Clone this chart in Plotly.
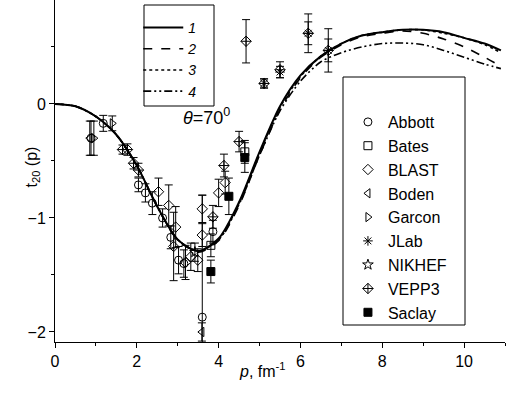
import plotly.graph_objects as go

# ---- theory curves ----
p_curve = [0, 0.5, 1, 1.5, 2, 2.5, 3, 3.5, 4, 4.5, 5, 5.5, 6, 6.5, 7, 7.5, 8, 8.5, 9, 9.5, 10, 10.5, 10.9]
t_curve1 = [0, -0.02, -0.11, -0.27, -0.54, -0.90, -1.19, -1.29, -1.18, -0.86, -0.42, -0.02, 0.25, 0.42, 0.53, 0.60, 0.63, 0.65, 0.65, 0.63, 0.58, 0.53, 0.47]
t_curve2 = [0, -0.02, -0.11, -0.27, -0.54, -0.90, -1.19, -1.30, -1.20, -0.89, -0.45, -0.05, 0.23, 0.41, 0.52, 0.59, 0.62, 0.64, 0.62, 0.57, 0.50, 0.41, 0.33]
t_curve3 = [0, -0.02, -0.11, -0.27, -0.54, -0.90, -1.19, -1.29, -1.19, -0.87, -0.43, -0.03, 0.24, 0.42, 0.53, 0.60, 0.63, 0.65, 0.65, 0.62, 0.58, 0.52, 0.45]
t_curve4 = [0, -0.02, -0.11, -0.27, -0.54, -0.90, -1.19, -1.29, -1.19, -0.88, -0.45, -0.06, 0.20, 0.37, 0.45, 0.50, 0.53, 0.535, 0.52, 0.47, 0.41, 0.35, 0.31]
curve_names = ["<i>1</i>", "<i>2</i>", "<i>3</i>", "<i>4</i>"]

# ---- experimental data: p, t20, error ----
abbott_p = [0.88, 1.18, 2.04, 2.21, 2.38, 2.63, 2.83, 3.02, 3.15, 3.6, 3.86]
abbott_t = [-0.30, -0.17, -0.71, -0.78, -0.87, -1.00, -1.17, -1.37, -1.40, -1.87, -1.12]
abbott_e = [0.15, 0.07, 0.06, 0.08, 0.10, 0.08, 0.10, 0.12, 0.12, 1.07, 0.10]

bates_p = [3.81, 4.64]
bates_t = [-1.24, -0.42]
bates_e = [0.10, 0.10]

blast_p = [2.53, 2.78, 2.90, 2.95, 3.19, 3.32, 3.49, 3.60, 3.60, 4.00, 4.16]
blast_t = [-0.77, -0.89, -1.25, -1.08, -1.39, -1.34, -1.37, -0.92, -1.15, -0.78, -0.69]
blast_e = [0.12, 0.18, 0.30, 0.18, 0.15, 0.12, 0.10, 0.12, 0.10, 0.12, 0.10]

boden_p = [0.85, 3.59]
boden_t = [-0.30, -2.00]
boden_e = [0.15, 0.08]

garcon_p = [0.95, 1.40]
garcon_t = [-0.30, -0.17]
garcon_e = [0.15, 0.065]

jlab_p = [5.11, 5.50, 6.19, 6.68]
jlab_t = [0.18, 0.28, 0.62, 0.47]
jlab_e = [0.04, 0.05, 0.10, 0.10]

nikhef_p = [3.42]
nikhef_t = [-1.30]
nikhef_e = [0.08]

vepp3_p = [1.65, 1.77, 1.92, 2.04, 3.86, 4.13, 4.50, 4.67, 5.11, 5.50, 6.19, 6.68]
vepp3_t = [-0.40, -0.40, -0.52, -0.58, -0.99, -0.54, -0.33, 0.55, 0.18, 0.30, 0.62, 0.47]
vepp3_e = [0.04, 0.05, 0.05, 0.06, 0.10, 0.10, 0.09, 0.19, 0.04, 0.07, 0.17, 0.19]

saclay_p = [3.81, 4.25, 4.64]
saclay_t = [-1.47, -0.81, -0.47]
saclay_e = [0.10, 0.16, 0.13]

FONT = "Arial, Liberation Sans, sans-serif"
fig = go.Figure()

dashes = ["solid", "dash", "dot", "8px,3px,2px,3px,2px,3px"]
widths = [2, 1.6, 1.6, 1.6]
for t, name, d, w in zip([t_curve1, t_curve2, t_curve3, t_curve4], curve_names, dashes, widths):
    fig.add_trace(go.Scatter(x=p_curve, y=t, mode="lines", name=name,
                             line=dict(color="black", width=w, dash=d, shape="spline", smoothing=0.8),
                             legend="legend"))

series = [
    ("Abbott", abbott_p, abbott_t, abbott_e, "circle-open"),
    ("Bates", bates_p, bates_t, bates_e, "square-open"),
    ("BLAST", blast_p, blast_t, blast_e, "diamond-open"),
    ("Boden", boden_p, boden_t, boden_e, "triangle-left-open"),
    ("Garcon", garcon_p, garcon_t, garcon_e, "triangle-right-open"),
    ("JLab", jlab_p, jlab_t, jlab_e, "asterisk-open"),
    ("NIKHEF", nikhef_p, nikhef_t, nikhef_e, "star-open"),
    ("VEPP3", vepp3_p, vepp3_t, vepp3_e, "diamond-cross-open"),
    ("Saclay", saclay_p, saclay_t, saclay_e, "square"),
]
for name, px, pt, pe, sym in series:
    fig.add_trace(go.Scatter(
        x=px, y=pt, mode="markers", name=name, legend="legend2",
        marker=dict(symbol=sym, size=8, color="black", line=dict(color="black", width=1)),
        error_y=dict(type="data", array=pe, visible=True, color="black", thickness=1, width=4)))

fig.update_layout(
    width=506, height=394,
    margin=dict(l=55, r=1, t=0, b=52),
    paper_bgcolor="white", plot_bgcolor="white",
    font=dict(family=FONT, size=16, color="black"),
    legend=dict(x=0.185, y=0.965, xanchor="left", yanchor="top", bgcolor="rgba(0,0,0,0)",
                borderwidth=0, itemwidth=40, font=dict(size=14, family=FONT), traceorder="normal"),
    legend2=dict(x=0.651, y=0.693, xanchor="left", yanchor="top", bgcolor="rgba(0,0,0,0)",
                 borderwidth=0, font=dict(size=16, family=FONT), traceorder="normal"),
    xaxis=dict(range=[0, 11], showgrid=False, zeroline=False, showline=True, linecolor="black",
               linewidth=1, ticks="outside", ticklen=5, tickcolor="black", dtick=2, tick0=0,
               minor=dict(dtick=1, ticks="outside", ticklen=3, tickcolor="black"),
               tickfont=dict(size=16)),
    yaxis=dict(range=[-2.088, 0.912], showgrid=False, zeroline=False, showline=True, linecolor="black",
               linewidth=1, ticks="outside", ticklen=5, tickcolor="black", dtick=1, tick0=0,
               minor=dict(dtick=0.5, ticks="outside", ticklen=3, tickcolor="black"),
               tickfont=dict(size=16)),
    showlegend=True,
)

# legend frames
fig.add_shape(type="rect", xref="paper", yref="paper",
              x0=(144 - 55) / 450, x1=(214 - 55) / 450, y0=(342 - 106) / 342, y1=(342 - 5) / 342,
              line=dict(color="black", width=1))
fig.add_shape(type="rect", xref="paper", yref="paper",
              x0=(343 - 55) / 450, x1=(465 - 55) / 450, y0=(342 - 325) / 342, y1=(342 - 77) / 342,
              line=dict(color="black", width=1))

fig.add_annotation(text="<i>θ</i>=70<sup>0</sup>", xref="paper", yref="paper",
                   x=(206 - 55) / 450, y=(342 - 117) / 342, showarrow=False,
                   font=dict(size=18, family=FONT))
fig.add_annotation(text="<i>p</i>, fm<sup>-1</sup>", xref="paper", yref="paper",
                   x=(262 - 55) / 450, y=(342 - 382) / 342, showarrow=False,
                   font=dict(size=16, family=FONT))
fig.add_annotation(text="t<sub>20</sub> (p)", xref="paper", yref="paper",
                   x=(20 - 55) / 450, y=(342 - 167) / 342, showarrow=False, textangle=-90,
                   font=dict(size=16, family=FONT))

fig.write_html("out.html")
